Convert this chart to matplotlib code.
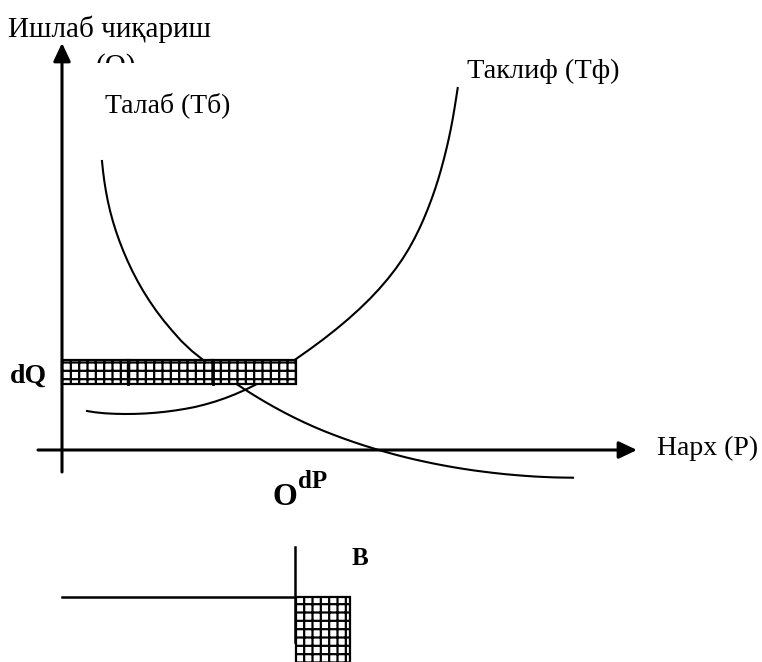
import numpy as np
import matplotlib.pyplot as plt
from matplotlib.patches import Rectangle

# fonts: serif with a fallback for the Cyrillic extras
plt.rcParams['font.family'] = ['Liberation Serif', 'DejaVu Serif']
plt.rcParams['hatch.linewidth'] = 1.6

################################################################################
#                                     DATA                                     #
################################################################################

# demand curve (Talab) in pixel units (x right, y down)
demand_x = [102.0, 103.0, 104.3, 105.9, 107.8, 110.1, 112.8, 115.9, 119.4,
            123.3, 127.6, 132.3, 137.5, 143.2, 149.5, 156.4, 164.0, 172.4,
            181.3, 191.9, 204.4, 214.4, 224.4, 234.4, 244.4, 254.4, 264.4,
            274.4, 284.4, 294.4, 304.4, 314.4, 324.4, 334.4, 344.4, 354.4,
            364.4, 374.4, 384.4, 394.4, 404.4, 414.4, 424.4, 434.4, 444.4,
            454.4, 464.4, 474.4, 484.4, 494.4, 504.4, 514.4, 524.4, 534.4,
            544.4, 554.4, 564.4, 573.0]
demand_y = [161.0, 171.0, 181.0, 191.0, 201.0, 211.0, 221.0, 231.0, 241.0,
            251.0, 261.0, 271.0, 281.0, 291.0, 301.0, 311.0, 321.0, 331.0,
            341.0, 351.0, 361.0, 368.5, 375.7, 382.6, 389.2, 395.5, 401.5,
            407.2, 412.6, 417.7, 422.5, 427.0, 431.2, 435.1, 438.8, 442.3,
            445.6, 448.7, 451.6, 454.4, 457.0, 459.4, 461.6, 463.7, 465.6,
            467.4, 469.0, 470.5, 471.8, 473.0, 474.1, 475.0, 475.8, 476.5,
            477.0, 477.4, 477.6, 477.7]

# supply curve (Taklif): lower arc, part hidden under the band, upper branch
supply_x = [87.0, 95.0, 105.0, 115.0, 125.0, 135.0, 145.0, 155.0, 165.0,
            175.0, 185.0, 195.0, 205.0, 215.0, 225.0, 235.0, 245.0, 255.0,
            275.0, 296.0, 310.2, 323.7, 336.4, 348.3, 359.4, 369.7, 379.1,
            387.7, 395.5, 402.5, 408.7, 414.2, 419.2, 423.7, 427.8, 431.6,
            435.1, 438.3, 441.2, 443.9, 446.4, 448.7, 450.8, 452.7, 454.4,
            456.0, 457.7]
supply_y = [411.0, 412.3, 413.3, 413.8, 414.0, 413.9, 413.5, 412.8, 411.8,
            410.5, 408.9, 407.0, 404.5, 401.6, 398.2, 394.3, 389.9, 385.0,
            373.0, 359.0, 349.0, 339.0, 329.0, 319.0, 309.0, 299.0, 289.0,
            279.0, 269.0, 259.0, 249.0, 239.0, 229.0, 219.0, 209.0, 199.0,
            189.0, 179.0, 169.0, 159.0, 149.0, 139.0, 129.0, 119.0, 109.0,
            99.0, 88.0]

# hatched band dQ, split in three pieces
band_edges = [62, 128, 213, 296]
band_top, band_bottom = 360, 384

# lower sketch (B)
b_vline_x, b_vline_y = 295, [547, 642]
b_hline_y, b_hline_x = 597, [62, 295]
b_box_x, b_box_y = [296, 350], [597, 670]

# axes
yaxis_x, yaxis_y = 62, [472, 43]
xaxis_y, xaxis_x = 450, [38, 637]

################################################################################
#                                    FIGURE                                    #
################################################################################

fig = plt.figure(figsize=(7.62, 6.62), dpi=100)
ax = fig.add_axes([0, 0, 1, 1])
ax.set_xlim(0, 762)
ax.set_ylim(662, 0)
ax.axis('off')

# Axes with arrows
arrow_kw = dict(arrowstyle='-|>,head_length=0.55,head_width=0.26',
                lw=2.2, color='k', mutation_scale=20, shrinkA=0, shrinkB=0)
ax.annotate('', xy=(yaxis_x, yaxis_y[1]), xytext=(yaxis_x, yaxis_y[0]),
            arrowprops=arrow_kw)
ax.annotate('', xy=(xaxis_x[1], xaxis_y), xytext=(xaxis_x[0], xaxis_y),
            arrowprops=arrow_kw)

# Curves
ax.plot(demand_x, demand_y, color='k', lw=1.5, zorder=2,
        solid_joinstyle='round')
ax.plot(supply_x, supply_y, color='k', lw=1.5, zorder=2,
        solid_joinstyle='round')

# Hatched band
for x0, x1 in zip(band_edges[:-1], band_edges[1:]):
    ax.add_patch(Rectangle((x0, band_top), x1 - x0, band_bottom - band_top,
                           facecolor='white', edgecolor='k', hatch='++',
                           lw=1.6, zorder=3))
for xe in band_edges[1:-1]:
    ax.plot([xe, xe], [band_top, band_bottom], color='k', lw=2.0, zorder=4)

# Lower sketch
ax.plot([b_vline_x, b_vline_x], b_vline_y, color='k', lw=1.8, zorder=4)
ax.plot(b_hline_x, [b_hline_y, b_hline_y], color='k', lw=1.8, zorder=4)
ax.add_patch(Rectangle((b_box_x[0], b_box_y[0]), b_box_x[1] - b_box_x[0],
                       b_box_y[1] - b_box_y[0], facecolor='white',
                       edgecolor='k', hatch='++', lw=1.6, zorder=3))

# Labels
ax.text(8, 37, 'Ишлаб чиқариш', fontsize=21, va='baseline', ha='left')
ax.text(96, 74, '(Q)', fontsize=21, va='baseline', ha='left')
# the label is cut in half in the original
ax.add_patch(Rectangle((88, 63), 60, 30, facecolor='white', edgecolor='none',
                       zorder=5))
ax.text(105, 112, 'Талаб (Тб)', fontsize=20, va='baseline', ha='left')
ax.text(467, 78, 'Таклиф (Тф)', fontsize=20.5, va='baseline', ha='left')
ax.text(657, 455, 'Нарх (Р)', fontsize=20, va='baseline', ha='left')
ax.text(10, 383, 'dQ', fontsize=20, fontweight='bold', va='baseline',
        ha='left')
ax.text(272, 505, 'O', fontsize=23, fontweight='bold', va='baseline',
        ha='left')
ax.text(298, 488, 'dP', fontsize=18, fontweight='bold', va='baseline',
        ha='left')
ax.text(352, 565, 'B', fontsize=18, fontweight='bold', va='baseline',
        ha='left')

plt.savefig('out.png', dpi=100)
